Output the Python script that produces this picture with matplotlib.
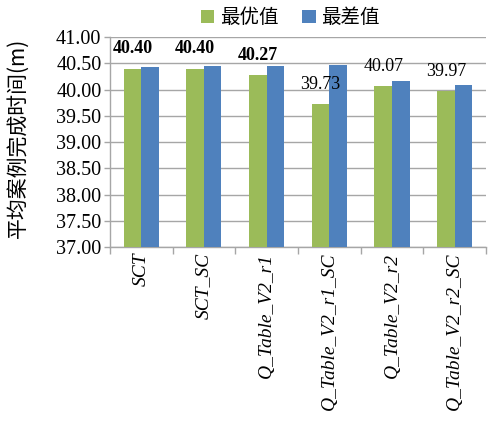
import matplotlib.pyplot as plt
import numpy as np

# average case completion time per strategy
categories = ['SCT', 'SCT_SC', 'Q_Table_V2_r1', 'Q_Table_V2_r1_SC',
              'Q_Table_V2_r2', 'Q_Table_V2_r2_SC']
best_vals = [40.40, 40.40, 40.27, 39.73, 40.07, 39.97]
worst_vals = [40.43, 40.45, 40.44, 40.47, 40.17, 40.08]
series_names = ['最优值', '最差值']
yticks = [37.0, 37.5, 38.0, 38.5, 39.0, 39.5, 40.0, 40.5, 41.0]

green = '#9BBB59'
blue = '#4F81BD'
grid_col = '#A6A6A6'
serif = 'Liberation Serif'
cjk = ['Noto Sans CJK SC', 'DejaVu Sans']

fig = plt.figure(figsize=(4.88, 4.23), dpi=100)
ax = fig.add_axes([0.225, 0.416, 0.771, 0.4965])

x = np.arange(len(categories))
w = 0.28
ax.bar(x - w / 2, best_vals, w, color=green, label=series_names[0], zorder=3)
ax.bar(x + w / 2, worst_vals, w, color=blue, label=series_names[1], zorder=3)

# data labels on the best-value bars
for i, v in enumerate(best_vals):
    ax.annotate('%.2f' % v, xy=(x[i] - w / 2, v), xytext=(0, 8),
                textcoords='offset points', ha='center', va='bottom',
                fontsize=13, fontfamily=serif,
                fontweight='bold' if i < 3 else 'normal', zorder=4)

ax.set_ylim(37, 41)
ax.set_xlim(-0.5, len(categories) - 0.5)
ax.set_yticks(yticks)
ax.set_yticklabels(['%.2f' % t for t in yticks], fontsize=14.5, fontfamily=serif)
ax.yaxis.grid(True, color=grid_col, linewidth=1, zorder=0)
ax.tick_params(axis='y', length=4, width=1, color=grid_col, pad=2)

ax.set_xticks(x)
ax.set_xticklabels(categories, rotation=90, fontsize=14, fontfamily=serif,
                   fontstyle='italic', va='top', ha='center')
ax.set_xticks(np.arange(len(categories) + 1) - 0.5, minor=True)
ax.tick_params(axis='x', which='major', length=0, pad=4)
ax.tick_params(axis='x', which='minor', length=5, width=1, color=grid_col)

for side in ['top', 'right']:
    ax.spines[side].set_visible(False)
for side in ['left', 'bottom']:
    ax.spines[side].set_color(grid_col)
    ax.spines[side].set_linewidth(1)

ax.set_ylabel('平均案例完成时间(m)', fontsize=15, family=cjk)
ax.yaxis.set_label_coords(-0.215, 0.52)

leg = fig.legend(loc='center', bbox_to_anchor=(0.595, 0.958), ncol=2,
                 frameon=False, prop={'family': cjk, 'size': 14},
                 handlelength=0.7, handleheight=0.7, handletextpad=0.3,
                 columnspacing=1.2)

fig.savefig('out.png', dpi=100)
